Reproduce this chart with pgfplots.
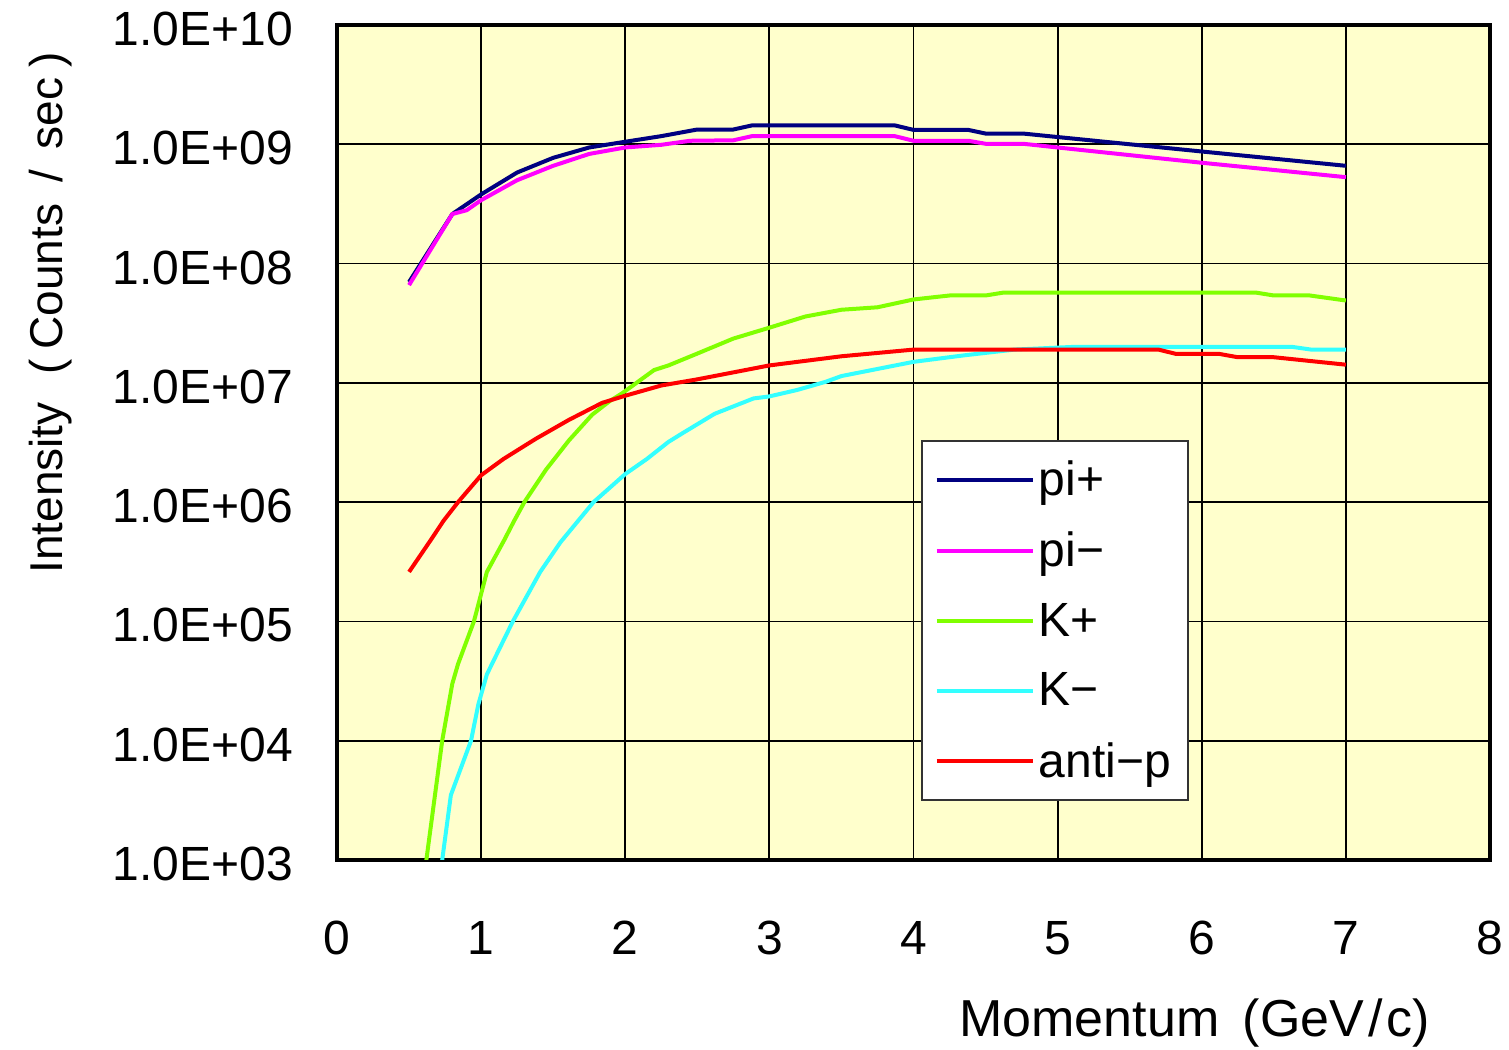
\documentclass[border=0pt]{standalone}
\usepackage{fontspec}
\setmainfont{Liberation Sans}
\usepackage{pgfplots}
\pgfplotsset{compat=1.18}
\definecolor{bgY}{HTML}{FFFFCC}
\definecolor{cPip}{HTML}{000080}
\definecolor{cPim}{HTML}{FF00FF}
\definecolor{cKp}{HTML}{80FF00}
\definecolor{cKm}{HTML}{33FFFF}
\definecolor{cAp}{HTML}{FF0000}
\begin{document}
\begin{tikzpicture}
\path[use as bounding box] (-168.5pt,-94.5pt) rectangle (586pt,430pt);
\begin{axis}[
  scale only axis, width=576.5pt, height=417.5pt,
  at={(0pt,0pt)}, anchor=south west,
  ymode=log, xmin=0, xmax=8, ymin=1e3, ymax=1e10,
  xtick={0,1,2,3,4,5,6,7,8},
  xticklabels={0,1,2,3,4,5,6,7,8},
  ytick={1e3,1e4,1e5,1e6,1e7,1e8,1e9,1e10},
  yticklabels={1.0E+03,1.0E+04,1.0E+05,1.0E+06,1.0E+07,1.0E+08,1.0E+09,1.0E+10},
  yminorticks=false,
  grid=major,
  major grid style={black, line width=0.9pt},
  axis line style={line width=2pt},
  axis background/.style={fill=bgY},
  tick style={draw=none},
  ticklabel style={font=\fontsize{24}{28}\selectfont},
  xticklabel style={yshift=-27pt},
  yticklabel style={xshift=-18.5pt, yshift=-2pt},
  xlabel={Momentum\hspace{0.45em}(GeV\kern0.08em/\kern0.08em c)},
  xlabel style={font=\fontsize{26}{30}\selectfont, at={(axis description cs:0.744,-0.211)}, anchor=base},
  ylabel={Intensity\hspace{0.6em}(\kern0.22em Counts\hspace{0.45em}/\hspace{0.45em}sec\kern0.22em)},
  ylabel style={font=\fontsize{23}{28}\selectfont, at={(axis description cs:-0.2385,0.655)}, rotate=0, anchor=base},
  legend style={at={(axis description cs:0.5065,0.503)}, anchor=north west,
    fill=white, draw=black!80, line width=0.8pt,
    font=\fontsize{24}{28}\selectfont, row sep=12.75pt,
    inner xsep=6.5pt, inner ysep=8pt, cells={anchor=west}},
  legend image code/.code={\draw[#1, line width=2pt] (0pt,0pt) -- (44.5pt,0pt); \path (0pt,0pt) -- (48pt,0pt);},
  every axis plot/.append style={line width=2pt},
]
\addplot[cPip] coordinates {
(0.5,7.0e7) (0.8,2.6e8) (1.0,3.8e8) (1.25,5.8e8) (1.5,7.7e8) (1.75,9.4e8)
(2.0,1.05e9) (2.25,1.17e9) (2.5,1.33e9) (2.75,1.33e9) (2.88,1.44e9) (3.87,1.44e9)
(4.0,1.32e9) (4.38,1.32e9) (4.5,1.23e9) (4.76,1.23e9) (5.0,1.15e9) (6.0,8.7e8) (7.0,6.6e8)};
\addlegendentry{pi+}
\addplot[cPim] coordinates {
(0.5,6.6e7) (0.8,2.6e8) (0.9,2.8e8) (1.0,3.4e8) (1.25,5.0e8) (1.5,6.6e8) (1.75,8.3e8)
(2.0,9.4e8) (2.25,9.9e8) (2.45,1.07e9) (2.75,1.08e9) (2.88,1.17e9) (3.87,1.17e9)
(4.0,1.07e9) (4.38,1.07e9) (4.5,1.01e9) (4.76,1.01e9) (5.0,9.4e8) (6.0,7.0e8) (7.0,5.3e8)};
\addlegendentry{pi−}
\addplot[cKp] coordinates {
(0.6,6e2) (0.62,1e3) (0.73,1e4) (0.80,3e4) (0.84,4.4e4) (0.95,1e5) (1.04,2.6e5)
(1.16,4.8e5) (1.23,7.0e5) (1.30,1e6) (1.45,1.87e6) (1.61,3.3e6) (1.77,5.4e6)
(1.89,7.0e6) (1.98,8.2e6) (2.2,1.28e7) (2.3,1.4e7) (2.5,1.76e7) (2.75,2.35e7)
(3.0,2.9e7) (3.25,3.6e7) (3.5,4.1e7) (3.75,4.3e7) (4.0,5.0e7) (4.25,5.4e7)
(4.5,5.4e7) (4.62,5.7e7) (6.38,5.7e7) (6.5,5.4e7) (6.75,5.4e7) (7.0,4.9e7)};
\addlegendentry{K+}
\addplot[cKm] coordinates {
(0.7,5e2) (0.73,1e3) (0.79,3.5e3) (0.93,1e4) (0.98,2e4) (1.04,3.6e4) (1.22,1e5)
(1.41,2.6e5) (1.55,4.6e5) (1.78,1e6) (2.0,1.72e6) (2.15,2.3e6) (2.3,3.2e6) (2.4,3.8e6)
(2.62,5.5e6) (2.89,7.4e6) (3.0,7.7e6) (3.19,8.7e6) (3.39,1.02e7) (3.5,1.14e7)
(4.0,1.5e7) (4.35,1.7e7) (4.7,1.9e7) (5.1,2.0e7) (6.63,2.0e7) (6.76,1.9e7) (7.0,1.9e7)};
\addlegendentry{K−}
\addplot[cAp] coordinates {
(0.5,2.6e5) (0.65,4.8e5) (0.74,7.0e5) (0.84,1e6) (0.93,1.34e6) (1.0,1.68e6)
(1.155,2.3e6) (1.38,3.4e6) (1.61,4.9e6) (1.84,6.8e6) (2.0,7.8e6) (2.25,9.5e6)
(2.5,1.07e7) (3.0,1.4e7) (3.5,1.67e7) (4.0,1.9e7) (5.7,1.9e7) (5.82,1.75e7)
(6.12,1.75e7) (6.25,1.64e7) (6.5,1.64e7) (7.0,1.42e7)};
\addlegendentry{anti−p}
\end{axis}
\end{tikzpicture}
\end{document}
